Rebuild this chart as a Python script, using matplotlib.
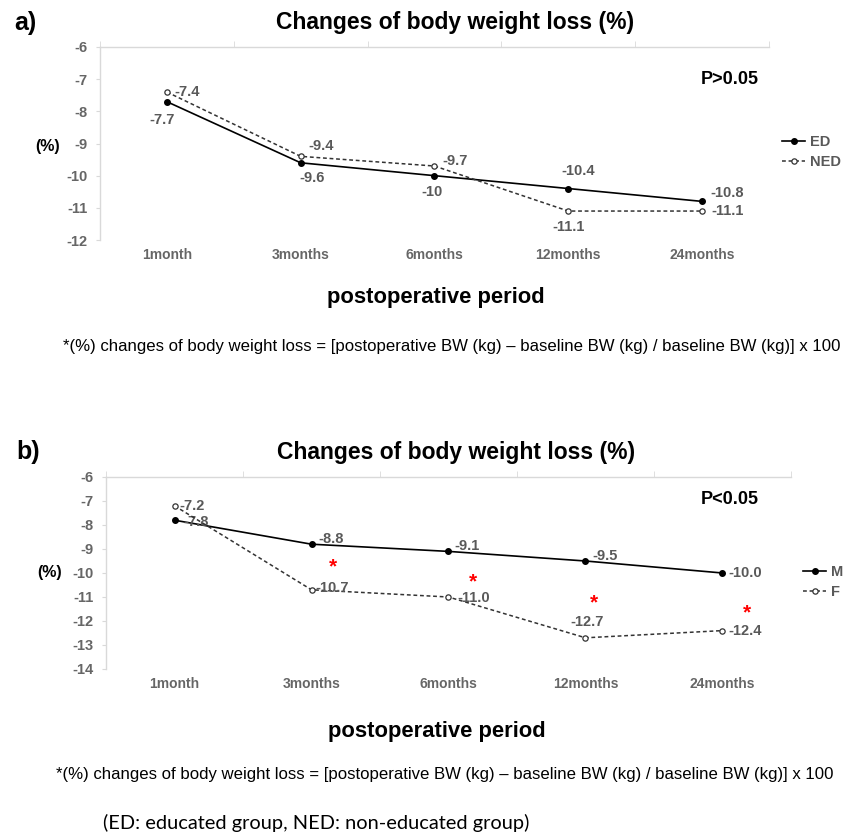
import matplotlib
matplotlib.use("Agg")
import matplotlib.pyplot as plt

plt.rcParams['font.family'] = ['Liberation Sans', 'DejaVu Sans']
plt.rcParams['axes.unicode_minus'] = False

# --------------------- data

periods = ["1month", "3months", "6months", "12months", "24months"]

# panel a: educated vs non-educated
ed = [-7.7, -9.6, -10, -10.4, -10.8]
ned = [-7.4, -9.4, -9.7, -11.1, -11.1]

# panel b: male vs female
male = [-7.8, -8.8, -9.1, -9.5, -10.0]
female = [-7.2, -10.7, -11.0, -12.7, -12.4]

# red asterisks in panel b (periods 3m..24m), height in axis units
sig_y = [-9.75, -10.38, -11.25, -11.67]

footnote = ("*(%) changes of body weight loss = [postoperative BW (kg) \u2013 "
            "baseline BW (kg) / baseline BW (kg)] x 100")

W, H = 845, 835
LABEL_GRAY = "#595959"
TICK_GRAY = "#666666"
AXIS_GRAY = "#d9d9d9"


def fx(px):
    return px / W


def fy(py):
    return 1 - py / H


# label offsets (pixels) for each data label
ed_off = [(-5, -18), (11, -15), (-2, -16), (10, 18), (25, 8)]
ned_off = [(20, 0), (20, 10), (21, 5), (0, -16), (25, 0)]
m_off = [(22, -2), (20, 5), (19, 5), (20, 5), (23, 0)]
f_off = [(18, 0), (21, 2), (25, -1), (2, 16), (23, 0)]


def style_axes(ax, ylim):
    x = range(len(periods))
    ax.set_xlim(-0.5, len(periods) - 0.5)
    ax.set_ylim(*ylim)
    ax.set_yticks(range(ylim[0], ylim[1] + 1))
    ax.set_xticks(list(x))
    ax.set_xticklabels(periods)
    ax.set_xticks([i - 0.5 for i in range(len(periods) + 1)], minor=True)
    for side in ["bottom", "right"]:
        ax.spines[side].set_visible(False)
    for side in ["top", "left"]:
        ax.spines[side].set_color(AXIS_GRAY)
        ax.spines[side].set_linewidth(1.0)
    ax.tick_params(axis='x', which='major', length=0, pad=6,
                   labelsize=10, labelcolor=TICK_GRAY)
    ax.tick_params(axis='x', which='minor', top=True, bottom=False,
                   direction='out', length=4, color=AXIS_GRAY)
    ax.tick_params(axis='y', length=3, color=AXIS_GRAY, pad=6,
                   labelsize=10.5, labelcolor=TICK_GRAY)
    for t in ax.get_xticklabels() + ax.get_yticklabels():
        t.set_fontweight('bold')


def draw_series(ax, vals, offsets, solid, name, fmt):
    x = list(range(len(vals)))
    if solid:
        line, = ax.plot(x, vals, color='black', lw=1.2, marker='o', ms=4,
                        label=name, zorder=3)
    else:
        line, = ax.plot(x, vals, color='#333333', lw=1.1, ls=(0, (2.5, 1.8)),
                        marker='o', ms=3.8, mfc='white', mec='#333333',
                        mew=0.9, label=name, zorder=3)
    for i, v in enumerate(vals):
        ax.annotate(fmt.format(v), (i, v), xytext=offsets[i],
                    textcoords='offset pixels', ha='center', va='center',
                    fontsize=10.5, fontweight='bold', color=LABEL_GRAY)
    return line


fig = plt.figure(figsize=(W / 100, H / 100), dpi=100)

# --------------------- panel a
ax_a = fig.add_axes([fx(100), fy(240), fx(769) - fx(100), fy(47) - fy(240)])
style_axes(ax_a, (-12, -6))
draw_series(ax_a, ed, ed_off, True, "ED", "{:g}")
draw_series(ax_a, ned, ned_off, False, "NED", "{:g}")
ax_a.legend(loc='center left', bbox_to_anchor=(fx(782), fy(152)),
            bbox_transform=fig.transFigure, frameon=False, handlelength=1.6,
            handletextpad=0.3, labelspacing=0.4, borderpad=0, borderaxespad=0,
            prop=dict(weight='bold', size=10.5), labelcolor=LABEL_GRAY)

fig.text(fx(14), fy(23), "a)", fontsize=18, fontweight='bold', va='center')
fig.text(fx(455), fy(23), "Changes of body weight loss (%)", fontsize=16.5,
         fontweight='bold', ha='center', va='center')
fig.text(fx(730), fy(80), "P>0.05", fontsize=13, fontweight='bold',
         ha='center', va='center')
fig.text(fx(48), fy(146), "(%)", fontsize=11.5, fontweight='bold',
         ha='center', va='center')
fig.text(fx(436), fy(297), "postoperative period", fontsize=15.8,
         fontweight='bold', ha='center', va='center')
fig.text(fx(63), fy(347), footnote, fontsize=12.05, ha='left', va='center')

# --------------------- panel b
ax_b = fig.add_axes([fx(106), fy(669), fx(791) - fx(106), fy(477) - fy(669)])
style_axes(ax_b, (-14, -6))
draw_series(ax_b, male, m_off, True, "M", "{:.1f}")
draw_series(ax_b, female, f_off, False, "F", "{:.1f}")
ax_b.legend(loc='center left', bbox_to_anchor=(fx(803), fy(582)),
            bbox_transform=fig.transFigure, frameon=False, handlelength=1.6,
            handletextpad=0.3, labelspacing=0.4, borderpad=0, borderaxespad=0,
            prop=dict(weight='bold', size=10.5), labelcolor=LABEL_GRAY)

sig_dx = [0.16, 0.18, 0.06, 0.18]
for k, y in enumerate(sig_y):
    ax_b.text(k + 1 + sig_dx[k], y, "*", color='red', fontsize=15,
              fontweight='bold', ha='center', va='center')

fig.text(fx(16), fy(452), "b)", fontsize=18, fontweight='bold', va='center')
fig.text(fx(456), fy(452), "Changes of body weight loss (%)", fontsize=16.5,
         fontweight='bold', ha='center', va='center')
fig.text(fx(730), fy(500), "P<0.05", fontsize=13, fontweight='bold',
         ha='center', va='center')
fig.text(fx(50), fy(573), "(%)", fontsize=11.5, fontweight='bold',
         ha='center', va='center')
fig.text(fx(437), fy(732), "postoperative period", fontsize=15.8,
         fontweight='bold', ha='center', va='center')
fig.text(fx(56), fy(775), footnote, fontsize=12.05, ha='left', va='center')

fig.text(fx(103), fy(823), "(ED: educated group, NED: non-educated group)",
         fontsize=14.4, ha='left', va='center', family=['Lato', 'DejaVu Sans'])

fig.savefig("out.png", dpi=100)
plt.close(fig)
